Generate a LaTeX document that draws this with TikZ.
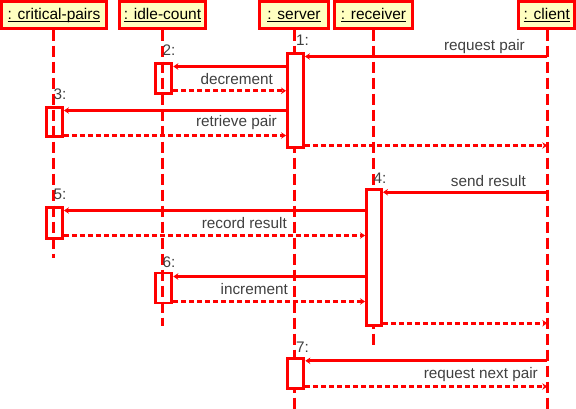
\documentclass[tikz,border=0pt]{standalone}
\usepackage{fontspec}
\setmainfont{Liberation Sans}
\usetikzlibrary{arrows.meta}
\definecolor{umlred}{RGB}{255,0,0}
\definecolor{umlfill}{RGB}{255,255,192}
\definecolor{umltext}{RGB}{64,64,64}
\newcommand\myul[1]{\setbox0\hbox{#1}\rlap{\rule[-2.6pt]{\wd0}{1pt}}\box0}
\begin{document}
\begin{tikzpicture}[x=1pt,y=-1pt,
  head/.style={draw=umlred, line width=2.9pt, fill=umlfill, inner sep=0pt,
    minimum height=26.7pt, text height=12pt, text depth=2pt,
    font=\fontsize{15.5}{18}\selectfont, text=black},
  life/.style={draw=umlred, line width=2.9pt, dash pattern=on 11pt off 5pt},
  act/.style={draw=umlred, line width=2.9pt, fill=white, inner sep=0pt, minimum width=16pt},
  actt/.style={act, fill=none},
  call/.style={draw=umlred, line width=2.9pt, -{Stealth[length=5pt,width=6.5pt]}},
  ret/.style={call, dash pattern=on 5pt off 3pt},
  lbl/.style={text=umltext, inner sep=0pt, font=\fontsize{15.3}{18}\selectfont},
]
\useasboundingbox (0,0) rectangle (576,409);
% headers
\node[head, minimum width=105pt]  (hcp)  at (54,14.9)    {\myul{: critical-pairs}};
\node[head, minimum width=86.6pt] (hid)  at (162.5,14.9) {\myul{: idle-count}};
\node[head, minimum width=68.4pt] (hsv)  at (294,14.9)   {\myul{: server}};
\node[head, minimum width=77.4pt] (hrc)  at (373.5,14.9) {\myul{: receiver}};
\node[head, minimum width=55.7pt] (hcl)  at (546.7,14.9) {\myul{: client}};
% transparent activations (behind lifelines)
\node[actt, minimum height=30.6pt] (id1) at (163.8,78.5) {};
\node[actt, minimum height=29pt]   (cp1) at (54.5,122) {};
\node[actt, minimum height=31.6pt] (cp2) at (54.5,223) {};
\node[actt, minimum height=30pt]   (id2) at (163.8,288) {};
% lifeline ends
\coordinate (ecp) at (53.5,258);
\coordinate (eid) at (162.3,326);
\coordinate (esv) at (294.7,412);
\coordinate (erc) at (373.3,347);
\coordinate (ecl) at (547.3,412);
\draw[life] (hcp.south -| ecp) -- (ecp);
\draw[life] (hid.south -| eid) -- (eid);
\draw[life] (hsv.south -| esv) -- (esv);
\draw[life] (hrc.south -| erc) -- (erc);
\draw[life] (hcl.south -| ecl) -- (ecl);
% opaque activations
\node[act, minimum height=93.5pt] (sv1) at (295.5,100.4) {};
\node[act, minimum width=15pt, minimum height=136.6pt] (rc1) at (374,257.5) {};
\node[act, minimum height=30.6pt] (sv2) at (295.9,373.5) {};
% messages
\draw[call] (ecl |- 0,56.5)  -- (sv1.east |- 0,56.5);
\draw[call] (sv1.west |- 0,66.5) -- (id1.east |- 0,66.5);
\draw[ret]  (id1.east |- 0,90.8) -- (sv1.west |- 0,90.8);
\draw[call] (sv1.west |- 0,110.5) -- (cp1.east |- 0,110.5);
\draw[ret]  (cp1.east |- 0,135.5) -- (sv1.west |- 0,135.5);
\draw[ret]  (sv1.east |- 0,145.5) -- (ecl |- 0,145.5);
\draw[call] (ecl |- 0,192.2) -- (rc1.east |- 0,192.2);
\draw[call] (rc1.west |- 0,210.5) -- (cp2.east |- 0,210.5);
\draw[ret]  (cp2.east |- 0,235.5) -- (rc1.west |- 0,235.5);
\draw[call] (rc1.west |- 0,276.5) -- (id2.east |- 0,276.5);
\draw[ret]  (id2.east |- 0,301.5) -- (rc1.west |- 0,301.5);
\draw[ret]  (rc1.east |- 0,323.2) -- (ecl |- 0,323.2);
\draw[call] (ecl |- 0,360.8) -- (sv2.east |- 0,360.8);
\draw[ret]  (sv2.east |- 0,386.5) -- (ecl |- 0,386.5);
% sequence numbers
\node[lbl, anchor=base west] (n1) at (296,46)  {1:};
\node[lbl, anchor=base west] (n2) at (162.5,56) {2:};
\node[lbl, anchor=base west] (n3) at (53.5,100) {3:};
\node[lbl, anchor=base west] (n4) at (373.5,183) {4:};
\node[lbl, anchor=base west] (n5) at (53.5,200) {5:};
\node[lbl, anchor=base west] (n6) at (162.5,267) {6:};
\node[lbl, anchor=base west] (n7) at (296,352) {7:};
% message labels
\node[lbl, anchor=base east] (t1) at (525,50.5)  {request pair};
\node[lbl, anchor=base east] (t2) at (273,85)    {decrement};
\node[lbl, anchor=base east] (t3) at (277,126.7) {retrieve pair};
\node[lbl, anchor=base east] (t4) at (526,186)   {send result};
\node[lbl, anchor=base east] (t5) at (287,228)   {record result};
\node[lbl, anchor=base east] (t6) at (288,294)   {increment};
\node[lbl, anchor=base east] (t7) at (538,378.5) {request next pair};
\end{tikzpicture}
\end{document}
